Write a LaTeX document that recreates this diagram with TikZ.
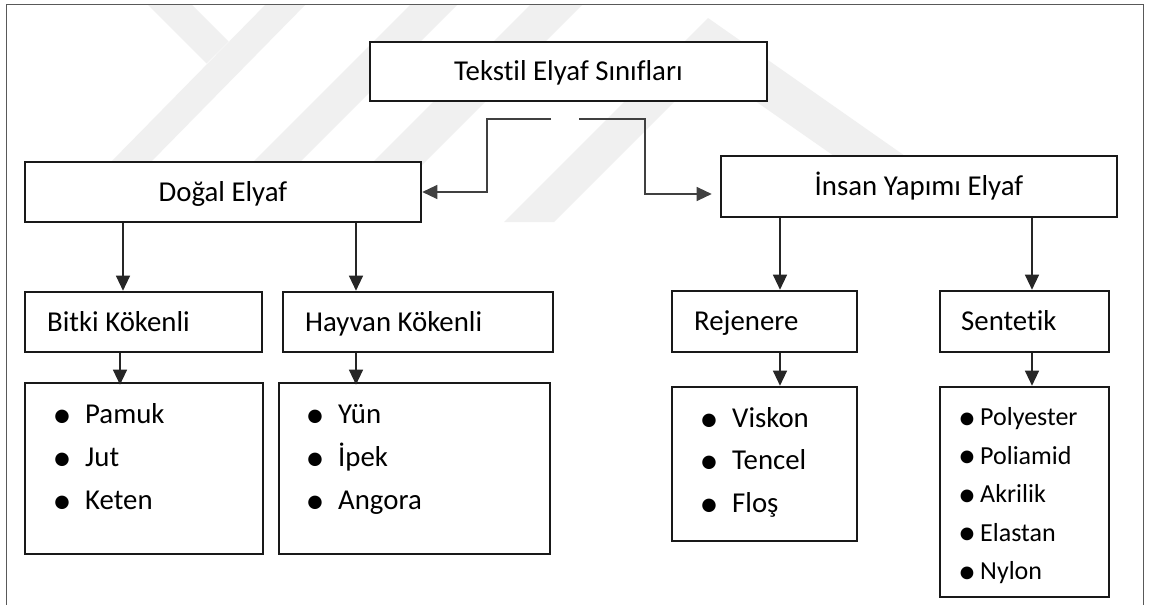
\documentclass[tikz,border=0pt]{standalone}
\usepackage{fontspec}
\setmainfont{Carlito}[Ligatures=NoCommon]
\usetikzlibrary{arrows.meta}
\begin{document}
\begin{tikzpicture}[x=1pt,y=-1pt,
  box/.style={draw=black!90, line width=2.6pt, fill=white, inner sep=0pt},
  lbl/.style={font=\fontsize{28.8}{34}\selectfont, inner sep=0pt, anchor=base},
  lblw/.style={font=\fontsize{28.8}{34}\selectfont, inner sep=0pt, anchor=base west},
  item/.style={font=\fontsize{28.8}{34}\selectfont, inner sep=0pt, anchor=base west},
  sitem/.style={font=\fontsize{26}{31}\selectfont, inner sep=0pt, anchor=base west},
  bul/.style={font=\fontsize{38}{42}\selectfont, inner sep=0pt, anchor=base, yshift=-4pt},
  sbul/.style={font=\fontsize{36}{40}\selectfont, inner sep=0pt, anchor=base, yshift=-3.5pt},
  arr/.style={draw=black!85, line width=1.2pt, -{Triangle[length=15pt,width=14pt]}},
  conn/.style={draw=black!75, line width=1.2pt, -{Triangle[length=15pt,width=14pt]}},
  wm/.style={fill=black!6, draw=none}]
\useasboundingbox (0,0) rectangle (1152,605);
\fill[white] (0,0) rectangle (1152,605);
% watermark
\begin{scope}
\clip (6,4) rectangle (1143,222);
\fill[wm] (143,0) -- (187,0) -- (228.5,41.5) -- (206.5,63.5) -- cycle;
\fill[wm] (270,0) -- (310,0) -- (148,165) -- (108,165) -- cycle;
\fill[wm] (415,0) -- (462,0) -- (297,165) -- (250,165) -- cycle;
\fill[wm] (535,0) -- (587,0) -- (365,222) -- (313,222) -- cycle;
\fill[wm] (504,222) -- (708,18) -- (905,156) -- (834,156) -- (708,68) -- (554,222) -- cycle;
\end{scope}
% frame
\draw[black!65, line width=1pt] (6,605) -- (6,4) -- (1143,4) -- (1143,605);
% boxes
\node[box, minimum width=397pt, minimum height=59pt] (title) at (568.5,71.5) {};
\node[box, minimum width=396pt, minimum height=60pt] (dogal) at (223,192) {};
\node[box, minimum width=396pt, minimum height=61pt] (insan) at (919,186.5) {};
\node[box, minimum width=237pt, minimum height=60pt] (bitki) at (143.5,322) {};
\node[box, minimum width=270pt, minimum height=60pt] (hayvan) at (418,322) {};
\node[box, minimum width=185pt, minimum height=61pt] (rej) at (764.5,321.5) {};
\node[box, minimum width=169pt, minimum height=61pt] (sent) at (1024.5,321.5) {};
\node[box, minimum width=238pt, minimum height=171pt] (bitkiL) at (144,468.5) {};
\node[box, minimum width=271pt, minimum height=171pt] (hayvanL) at (414.5,468.5) {};
\node[box, minimum width=185pt, minimum height=154pt] (rejL) at (764.5,464) {};
\node[box, minimum width=169pt, minimum height=210pt] (sentL) at (1024.5,492) {};
% labels
\node[lbl] (titleT) at (568.5,80) {Tekstil Elyaf Sınıfları};
\node[lbl] (dogalT) at (223,201) {Doğal Elyaf};
\node[lbl] (insanT) at (919,195) {İnsan Yapımı Elyaf};
\node[lblw] (bitkiT) at (47,331) {Bitki Kökenli};
\node[lblw] (hayvanT) at (305,331) {Hayvan Kökenli};
\node[lblw] (rejT) at (694,330.5) {Rejenere};
\node[lblw] (sentT) at (961,330.5) {Sentetik};
% lists
\foreach \t/\y [count=\i] in {Pamuk/423,Jut/466.5,Keten/509}{
  \node[bul] (bb\i) at (62,\y) {•};
  \node[item] (bi\i) at (85,\y) {\t};
}
\foreach \t/\y [count=\i] in {Yün/423,İpek/466.5,Angora/509}{
  \node[bul] (hb\i) at (315,\y) {•};
  \node[item] (hi\i) at (338,\y) {\t};
}
\foreach \t/\y [count=\i] in {Viskon/427,Tencel/469.5,Floş/512}{
  \node[bul] (rb\i) at (709,\y) {•};
  \node[item] (ri\i) at (732,\y) {\t};
}
\foreach \t/\y [count=\i] in {Polyester/425.5,Poliamid/464,Akrilik/502.5,Elastan/541,Nylon/579.5}{
  \node[sbul] (sb\i) at (967,\y) {•};
  \node[sitem] (si\i) at (980,\y) {\t};
}
% connectors from title
\coordinate (cl) at (551,119);
\coordinate (cr) at (579,119);
\draw[conn] (cl) -- ++(-64,0) |- (dogal.east);
\draw[conn] (cr) -- ++(66,0) |- ([xshift=-8pt,yshift=-7.5pt]insan.west);
% arrows
\draw[arr] ([xshift=-100pt]dogal.south) -- ([xshift=-100pt]dogal.south |- bitki.north);
\draw[arr] ([xshift=133pt]dogal.south) -- ([xshift=133pt]dogal.south |- hayvan.north);
\draw[arr] ([xshift=-139pt]insan.south) -- ([xshift=-139pt]insan.south |- rej.north);
\draw[arr] ([xshift=113pt]insan.south) -- ([xshift=113pt]insan.south |- sent.north);
\draw[arr] ([xshift=-23.5pt]bitki.south) -- ([xshift=-23.5pt,yshift=-3pt]bitki.south |- bitkiL.north);
\draw[arr] ([xshift=-62pt]hayvan.south) -- ([xshift=-62pt,yshift=-3pt]hayvan.south |- hayvanL.north);
\draw[arr] ([xshift=15.5pt]rej.south) -- ([xshift=15.5pt]rej.south |- rejL.north);
\draw[arr] ([xshift=7.5pt]sent.south) -- ([xshift=7.5pt]sent.south |- sentL.north);
\end{tikzpicture}
\end{document}
